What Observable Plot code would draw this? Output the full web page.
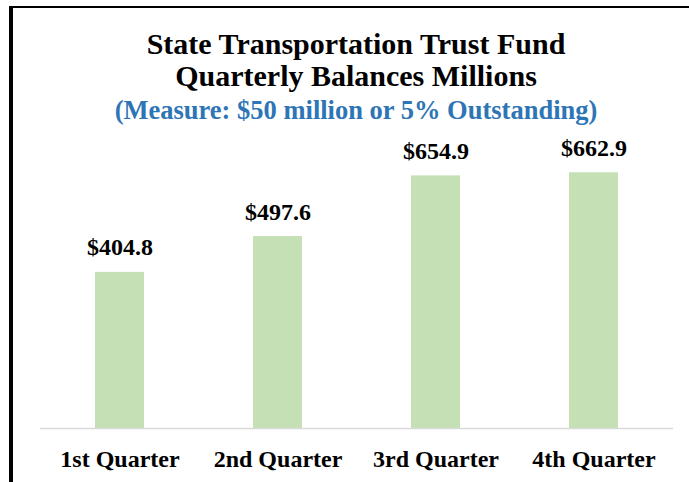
<!DOCTYPE html>
<html>
<head>
<meta charset="utf-8">
<script src="https://cdn.jsdelivr.net/npm/d3@7"></script>
<script src="https://cdn.jsdelivr.net/npm/@observablehq/plot@0.6"></script>
<style>
  html, body { margin: 0; padding: 0; background: #fff; overflow: hidden; }
  #wrap { position: relative; width: 689px; height: 482px; overflow: hidden; font-family: "Liberation Serif", "Times New Roman", serif; }
  #frame { position: absolute; left: 9px; top: 6px; width: 720px; height: 520px; border-left: 4px solid #000; border-top: 2.5px solid #000; box-sizing: border-box; }
  .t { position: absolute; left: 0; width: 712px; text-align: center; font-weight: bold; white-space: nowrap; }
  #t1 { top: 28px; font-size: 30px; line-height: 32px; color: #000; }
  #t2 { top: 60px; font-size: 30px; line-height: 32px; color: #000; }
  #t3 { top: 94px; font-size: 26.5px; line-height: 32px; color: #2e75b6; }
  #chart { position: absolute; left: 0; top: 140px; }
  #chart svg text { font-family: "Liberation Serif", "Times New Roman", serif; }
</style>
</head>
<body>
<div id="wrap">
  <div id="frame"></div>
  <div class="t" id="t1"></div>
  <div class="t" id="t2"></div>
  <div class="t" id="t3"></div>
  <div id="chart"></div>
</div>
<script>
const titleLines = ["State Transportation Trust Fund", "Quarterly Balances Millions"];
const subtitle = "(Measure: $50 million or 5% Outstanding)";
const quarters = ["1st Quarter", "2nd Quarter", "3rd Quarter", "4th Quarter"];
const balances = [404.8, 497.6, 654.9, 662.9];

document.getElementById("t1").textContent = titleLines[0];
document.getElementById("t2").textContent = titleLines[1];
document.getElementById("t3").textContent = subtitle;

const data = quarters.map((q, i) => ({quarter: q, value: balances[i]}));

const chart = Plot.plot({
  width: 689,
  height: 342,
  marginLeft: 40,
  marginRight: 16,
  marginTop: 18,
  marginBottom: 54,
  style: {background: "transparent", overflow: "visible"},
  x: {domain: quarters, paddingInner: 0.69, paddingOuter: 0.345, label: null},
  y: {domain: [0, 700], axis: null},
  marks: [
    Plot.barY(data, {x: "quarter", y: "value", fill: "#c5e0b4"}),
    Plot.ruleY([0], {stroke: "#d9d9d9", strokeWidth: 1.5}),
    Plot.text(data, {x: "quarter", y: "value", text: d => "$" + d.value.toFixed(1), lineAnchor: "bottom", dy: -17, fontSize: 24, fontWeight: "bold", fill: "#000"}),
    Plot.axisX({tickSize: 0, tickPadding: 21, fontSize: 24, fontWeight: "bold", color: "#000", label: null})
  ]
});
document.getElementById("chart").appendChild(chart);
</script>
</body>
</html>
